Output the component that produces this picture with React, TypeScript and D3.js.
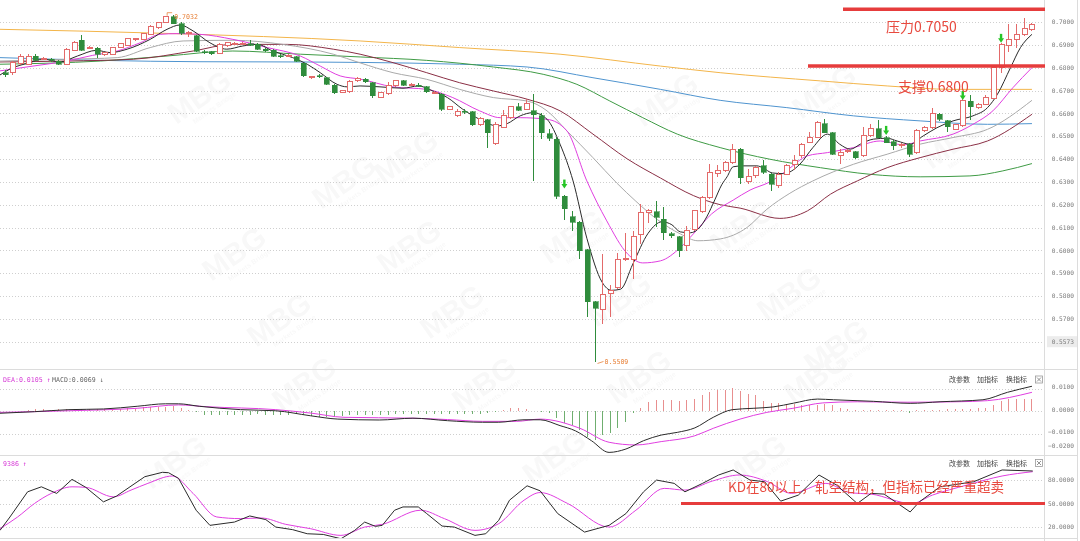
import React from 'react';
import * as d3 from 'd3';

const W = 1080;
const H = 541;

// ---------- candles (AUD/USD style daily) ----------
const opens = [
  0.6778,0.6778,0.6817,0.6815,0.6851,0.6838,0.6836,0.6829,0.6815,0.6876,
  0.6920,0.6885,0.6885,0.6859,0.6859,0.6888,0.6898,0.6925,0.6924,0.6946,
  0.6975,0.6997,0.7022,0.6993,0.6950,0.6939,0.6870,0.6870,0.6861,0.6895,
  0.6903,0.6905,0.6905,0.6902,0.6880,0.6876,0.6852,0.6851,0.6847,0.6819,
  0.6758,0.6765,0.6756,0.6724,0.6693,0.6695,0.6742,0.6749,0.6734,0.6669,
  0.6686,0.6720,0.6742,0.6727,0.6722,0.6716,0.6690,0.6684,0.6619,0.6589,
  0.6610,0.6607,0.6549,0.6571,0.6467,0.6540,0.6581,0.6628,0.6618,0.6611,
  0.6589,0.6511,0.6487,0.6238,0.6147,0.6122,0.6002,0.5776,0.5743,0.5810,
  0.5837,0.5960,0.5961,0.6068,0.6166,0.6170,0.6136,0.6073,0.6059,0.6020,
  0.6093,0.6170,0.6231,0.6336,0.6351,0.6384,0.6443,0.6300,0.6326,0.6370,
  0.6333,0.6282,0.6333,0.6377,0.6414,0.6472,0.6494,0.6555,0.6516,0.6414,
  0.6433,0.6432,0.6414,0.6501,0.6533,0.6494,0.6476,0.6460,0.6465,0.6428,
  0.6526,0.6537,0.6596,0.6567,0.6530,0.6545,0.6654,0.6625,0.6640,0.6665,
  0.6800,0.6895,0.6924,0.6946,0.6968,
];
const closes = [
  0.6768,0.6822,0.6851,0.6848,0.6832,0.6842,0.6832,0.6815,0.6881,0.6912,
  0.6876,0.6888,0.6859,0.6866,0.6888,0.6905,0.6927,0.6927,0.6950,0.6982,
  0.6997,0.7022,0.6993,0.6951,0.6953,0.6873,0.6869,0.6861,0.6902,0.6909,
  0.6906,0.6907,0.6899,0.6880,0.6875,0.6851,0.6850,0.6853,0.6829,0.6764,
  0.6760,0.6760,0.6727,0.6691,0.6698,0.6739,0.6754,0.6739,0.6676,0.6691,
  0.6720,0.6742,0.6723,0.6728,0.6720,0.6695,0.6691,0.6618,0.6628,0.6607,
  0.6609,0.6549,0.6578,0.6516,0.6549,0.6589,0.6628,0.6614,0.6642,0.6593,
  0.6516,0.6491,0.6238,0.6182,0.6122,0.5998,0.5776,0.5747,0.5808,0.5826,
  0.5961,0.5964,0.6060,0.6165,0.6173,0.6144,0.6078,0.6063,0.5998,0.6088,
  0.6173,0.6231,0.6340,0.6351,0.6384,0.6443,0.6319,0.6322,0.6362,0.6341,
  0.6290,0.6333,0.6370,0.6392,0.6465,0.6494,0.6559,0.6516,0.6421,0.6428,
  0.6437,0.6406,0.6501,0.6533,0.6494,0.6472,0.6457,0.6462,0.6421,0.6526,
  0.6540,0.6599,0.6574,0.6541,0.6549,0.6657,0.6628,0.6640,0.6669,0.6800,
  0.6902,0.6924,0.6946,0.6972,0.6990,
];
const highs = [
  0.6790,0.6830,0.6862,0.6860,0.6858,0.6848,0.6842,0.6834,0.6886,0.6916,
  0.6942,0.6895,0.6890,0.6870,0.6892,0.6910,0.6930,0.6932,0.6954,0.6986,
  0.7002,0.7026,0.7032,0.6998,0.6962,0.6944,0.6878,0.6875,0.6908,0.6914,
  0.6912,0.6912,0.6921,0.6906,0.6884,0.6880,0.6858,0.6858,0.6852,0.6822,
  0.6764,0.6772,0.6760,0.6728,0.6702,0.6745,0.6760,0.6753,0.6738,0.6694,
  0.6738,0.6746,0.6746,0.6734,0.6735,0.6720,0.6696,0.6688,0.6632,0.6618,
  0.6618,0.6611,0.6584,0.6576,0.6560,0.6615,0.6632,0.6647,0.6662,0.6684,
  0.6602,0.6530,0.6495,0.6242,0.6173,0.6128,0.6006,0.5780,0.5986,0.5850,
  0.5990,0.6078,0.6085,0.6202,0.6180,0.6218,0.6189,0.6080,0.6065,0.6108,
  0.6178,0.6240,0.6380,0.6372,0.6392,0.6465,0.6450,0.6357,0.6370,0.6397,
  0.6340,0.6345,0.6378,0.6416,0.6470,0.6518,0.6565,0.6577,0.6520,0.6445,
  0.6445,0.6436,0.6540,0.6555,0.6570,0.6500,0.6482,0.6470,0.6470,0.6530,
  0.6545,0.6625,0.6602,0.6572,0.6555,0.6670,0.6679,0.6645,0.6682,0.6808,
  0.6910,0.6990,0.6990,0.7019,0.6995,
];
const lows = [
  0.6760,0.6770,0.6812,0.6810,0.6828,0.6832,0.6826,0.6810,0.6812,0.6872,
  0.6872,0.6880,0.6841,0.6852,0.6855,0.6884,0.6894,0.6918,0.6920,0.6942,
  0.6970,0.6994,0.6990,0.6945,0.6935,0.6868,0.6860,0.6855,0.6858,0.6890,
  0.6898,0.6899,0.6895,0.6876,0.6870,0.6846,0.6844,0.6845,0.6825,0.6760,
  0.6752,0.6755,0.6722,0.6686,0.6688,0.6690,0.6738,0.6735,0.6668,0.6665,
  0.6682,0.6716,0.6718,0.6718,0.6716,0.6690,0.6684,0.6612,0.6614,0.6585,
  0.6598,0.6544,0.6545,0.6448,0.6462,0.6536,0.6577,0.6610,0.6614,0.6304,
  0.6486,0.6480,0.6225,0.6133,0.6085,0.5963,0.5706,0.5509,0.5677,0.5706,
  0.5830,0.5954,0.5875,0.6027,0.6118,0.6101,0.6046,0.6055,0.5971,0.5998,
  0.6085,0.6165,0.6225,0.6321,0.6345,0.6380,0.6290,0.6290,0.6318,0.6335,
  0.6260,0.6275,0.6328,0.6350,0.6405,0.6468,0.6490,0.6512,0.6418,0.6379,
  0.6425,0.6400,0.6408,0.6497,0.6490,0.6468,0.6440,0.6450,0.6410,0.6420,
  0.6520,0.6532,0.6568,0.6518,0.6525,0.6540,0.6570,0.6618,0.6636,0.6662,
  0.6776,0.6867,0.6885,0.6940,0.6962,
];

// ---------- moving averages: [candle index, price] ----------
const ma5: [number, number][] = [
  [-0.6,0.6768],[0.7,0.6794],[3.3,0.6822],[5,0.6838],[7.2,0.6825],[9.5,0.6851],[12,0.6876],[13.8,0.6866],
  [16,0.6881],[19,0.6924],[21.2,0.6968],[22.9,0.6987],[24.6,0.6961],[26.8,0.6909],[29,0.6881],[31.1,0.6895],
  [33,0.6902],[35,0.6873],[37.6,0.6844],[39.5,0.6815],[41.2,0.6778],[43.4,0.6727],[44.7,0.6716],[46.4,0.6720],
  [49,0.6716],[52,0.6710],[54,0.6720],[55.9,0.6698],[57.8,0.6669],[59.8,0.6618],[62,0.6574],[64.3,0.6545],
  [65.6,0.6555],[67.3,0.6589],[69,0.6603],[70.8,0.6574],[72.5,0.6465],[74.2,0.6304],[76,0.6053],[78,0.5860],
  [79.2,0.5825],[80.4,0.5830],[82,0.5940],[84,0.6075],[85.8,0.6125],[87.1,0.6112],[88.2,0.6081],[89.5,0.6077],
  [90.8,0.6103],[91.7,0.6150],[92.7,0.6221],[93.6,0.6287],[94.3,0.6322],[95.1,0.6366],[96.4,0.6370],[98.2,0.6370],
  [99,0.6361],[100.2,0.6339],[101.7,0.6336],[103.8,0.6377],[105.5,0.6450],[107.4,0.6509],[109,0.6465],[110.4,0.6443],
  [111.7,0.6465],[113.4,0.6487],[115.2,0.6491],[116.5,0.6479],[118.2,0.6465],[119.9,0.6501],[121.7,0.6537],[123.8,0.6567],
  [126.4,0.6589],[128.3,0.6625],[129.6,0.6684],[131.3,0.6800],[132.6,0.6888],[134.1,0.6946],
];
const ma10: [number, number][] = [
  [-0.6,0.6786],[3.7,0.6807],[8.1,0.6829],[11.5,0.6854],[14.7,0.6873],[17.7,0.6909],[20.3,0.6946],[22.5,0.6949],
  [25.5,0.6946],[29.8,0.6924],[34.3,0.6888],[38.6,0.6851],[41.2,0.6807],[43.8,0.6764],[46.4,0.6750],[50.7,0.6716],
  [55.1,0.6705],[58.5,0.6669],[62,0.6611],[64.7,0.6581],[67.3,0.6581],[70.8,0.6574],[73.4,0.6523],[76,0.6304],
  [78.6,0.6129],[81.3,0.5985],[83.3,0.5945],[85.6,0.5954],[88.2,0.6012],[89.9,0.6072],[92.3,0.6160],[95.1,0.6220],
  [97.3,0.6264],[99.9,0.6300],[102.1,0.6350],[104.8,0.6414],[107.4,0.6428],[110.8,0.6450],[114.3,0.6479],[117.3,0.6462],
  [119.5,0.6479],[123.8,0.6509],[126.4,0.6552],[129,0.6611],[131.6,0.6712],[134.1,0.6800],
];
const ma20: [number, number][] = [
  [-0.6,0.6829],[8.1,0.6837],[14.7,0.6844],[19,0.6888],[23.3,0.6917],[29.8,0.6920],[36.3,0.6902],[42.9,0.6859],
  [46.4,0.6821],[50.7,0.6778],[55.1,0.6749],[59.4,0.6705],[63.8,0.6669],[68.2,0.6654],[70.8,0.6611],[73.4,0.6523],
  [76.8,0.6406],[79.9,0.6295],[82.4,0.6215],[85.2,0.6135],[88.2,0.6072],[90.5,0.6042],[93.4,0.6050],[96.9,0.6100],
  [99.5,0.6180],[102.5,0.6250],[105.5,0.6304],[110.8,0.6377],[115.2,0.6421],[119.5,0.6465],[123.8,0.6494],[128.3,0.6530],
  [134.1,0.6657],
];
const ma30: [number, number][] = [
  [-0.6,0.6825],[8.1,0.6829],[16.8,0.6837],[24.6,0.6873],[29.8,0.6902],[36.9,0.6902],[42.9,0.6881],[46.4,0.6859],
  [50.7,0.6822],[55.1,0.6778],[59.4,0.6734],[63.8,0.6698],[68.2,0.6662],[72.5,0.6611],[76.8,0.6509],[81.3,0.6400],
  [85.6,0.6317],[89.9,0.6240],[93.4,0.6200],[96,0.6185],[101.2,0.6140],[104.8,0.6173],[107.8,0.6246],[111.3,0.6304],
  [115.2,0.6362],[119.5,0.6406],[123.8,0.6443],[128.3,0.6479],[134.1,0.6596],
];
const ma60: [number, number][] = [
  [-0.6,0.6815],[12.5,0.6829],[21.2,0.6851],[29.8,0.6873],[38.6,0.6859],[46.4,0.6847],[55.1,0.6832],[63.8,0.6803],
  [70.3,0.6771],[74.7,0.6727],[79,0.6654],[83.3,0.6581],[87.8,0.6509],[93.4,0.6450],[99.9,0.6399],[106.5,0.6362],
  [113,0.6333],[119.5,0.6322],[126,0.6326],[130.3,0.6348],[134.1,0.6380],
];
const ma120: [number, number][] = [
  [-0.6,0.6844],[12.5,0.6832],[25.5,0.6826],[38.6,0.6825],[46.4,0.6823],[59.4,0.6815],[68.2,0.6803],[76.8,0.6756],
  [85.6,0.6705],[93.4,0.6657],[102.1,0.6625],[110.8,0.6589],[119.5,0.6567],[128.3,0.6552],[134.1,0.6555],
];
const ma250: [number, number][] = [
  [-0.6,0.6968],[21.2,0.6950],[46.4,0.6917],[59.4,0.6888],[72.5,0.6859],[85.6,0.6807],[93.4,0.6778],[106.5,0.6742],
  [115.2,0.6720],[123.8,0.6705],[134.1,0.6705],
];

// ---------- MACD ----------
const macdHist = [
  0.0001,0.0001,0.0002,0.0006,0.0007,0.0007,0.0006,0.0007,0.0008,0.0007,
  0.0007,0.0008,0.0009,0.0011,0.0010,0.0011,0.0012,0.0011,0.0016,0.0018,
  0.0019,0.0020,0.0022,0.0013,0.0004,-0.0004,-0.0017,-0.0018,-0.0019,-0.0018,
  -0.0018,-0.0017,-0.0016,-0.0015,-0.0016,-0.0016,-0.0017,-0.0016,-0.0015,-0.0018,
  -0.0024,-0.0025,-0.0026,-0.0025,-0.0024,-0.0019,-0.0018,-0.0018,-0.0017,-0.0018,
  -0.0018,-0.0014,-0.0013,-0.0013,-0.0012,-0.0013,-0.0013,-0.0014,-0.0013,-0.0012,
  -0.0013,-0.0013,-0.0012,-0.0010,-0.0004,0.0003,0.0012,0.0014,0.0008,-0.0002,
  -0.0004,-0.0008,-0.0032,-0.0055,-0.0062,-0.0084,-0.0114,-0.0129,-0.0107,-0.0099,
  -0.0077,-0.0048,-0.0010,0.0015,0.0040,0.0050,0.0050,0.0050,0.0043,0.0050,
  0.0055,0.0070,0.0084,0.0095,0.0095,0.0102,0.0090,0.0077,0.0070,0.0043,
  0.0037,0.0036,0.0032,0.0032,0.0028,0.0025,0.0028,0.0032,0.0025,0.0013,
  0.0010,0.0003,0.0004,0.0004,0.0004,0.0005,0.0004,0.0004,-0.0009,0.0003,
  0.0004,0.0006,0.0006,0.0008,0.0008,0.0010,0.0010,0.0013,0.0013,0.0025,
  0.0043,0.0052,0.0055,0.0055,0.0052,
];
const macdDif: [number, number][] = [
  [-0.6,-0.0010],[3.9,-0.0003],[8.4,0.0006],[12.9,0.0009],[17.3,0.0021],[21,0.0032],[22.7,0.0032],[25.4,0.0021],
  [30.8,0.0006],[35.4,0.0001],[39.9,-0.0021],[43.5,-0.0036],[48.9,-0.0040],[53.3,-0.0032],[57.8,-0.0043],[62.4,-0.0050],
  [64.5,-0.0050],[67.8,-0.0039],[69.9,-0.0039],[72.5,-0.0065],[74.5,-0.0088],[76.6,-0.0132],[78.9,-0.0184],[81.1,-0.0169],
  [83.4,-0.0132],[85.7,-0.0107],[87.8,-0.0095],[90.1,-0.0075],[92.5,-0.0028],[95,0.0006],[97.7,0.0012],[100.3,0.0018],
  [103,0.0035],[106.1,0.0053],[108.2,0.0050],[113.4,0.0043],[118.2,0.0034],[122.1,0.0041],[127.7,0.0050],[130.9,0.0083],
  [134.1,0.0110],
];
const macdDea: [number, number][] = [
  [-0.6,-0.0006],[8.4,0.0001],[17.3,0.0012],[22.7,0.0027],[26.4,0.0019],[35.4,0.0006],[39.9,-0.0009],[44.3,-0.0028],
  [53.3,-0.0032],[57.8,-0.0038],[62.4,-0.0046],[66.8,-0.0046],[69.9,-0.0036],[75.1,-0.0077],[78.9,-0.0139],[82.4,-0.0151],
  [85.7,-0.0136],[90.1,-0.0110],[92.5,-0.0077],[96,-0.0036],[99.5,-0.0006],[102.9,0.0012],[106.8,0.0036],[111.3,0.0041],
  [117.8,0.0039],[124.3,0.0041],[128.3,0.0046],[134.1,0.0083],
];

// ---------- KD ----------
const kdK: [number, number][] = [
  [-0.6,15.7],[0.7,32.8],[3,64.9],[4.8,71.3],[6.8,62.9],[8.8,80.8],[10.6,70.6],[12.9,52.1],[14.6,59.4],[16.5,72.2],
  [18.3,84.2],[20.6,89.8],[21.4,89.3],[22.7,82.1],[25,41.4],[26.8,22.1],[30,26.3],[32,34.1],[34.1,29.4],[35.4,19.9],
  [37.6,16.6],[39.5,11.4],[41.6,10.5],[43.9,5],[45.7,15.7],[47,26.3],[48.4,20.8],[49.3,22.1],[50.9,41.4],[52,45.6],
  [54,45.6],[55.1,37.1],[57.1,21.2],[58.7,19.9],[61.4,9.3],[62.8,11.4],[64.5,28.5],[65.9,54.2],[68.2,72.6],[69.9,66.2],
  [72.2,37.1],[75.7,13.5],[78.9,22.1],[81.1,37.1],[83.4,64.9],[85.1,79.9],[87.4,75.7],[88.8,64.9],[91.1,75.7],[93.2,86.4],
  [95.1,92.8],[97.3,79.9],[99.2,77.8],[101.3,53],[103.6,60.7],[106.3,86.4],[108.6,73.5],[111.3,50],[113.1,62.9],[114.8,62],
  [118.2,39.2],[119.4,52.1],[122.1,71.3],[126.5,77.8],[130.2,92.8],[134.2,91.5],
];
const kdD: [number, number][] = [
  [-0.6,17.9],[1.7,32.8],[3.9,50],[6.1,62.9],[8.8,71.3],[10.6,70.6],[14.2,58.5],[16.5,67.1],[18.7,75.7],[21.9,85.1],
  [24.6,62.9],[27.7,32.8],[30.8,30.7],[33.5,31.5],[36.7,23.4],[39.9,17.9],[43.9,9.3],[47,19.9],[49.3,23.4],[54.3,41.4],
  [57.4,30.7],[61.4,15.7],[64.5,24.3],[67.8,54.2],[69.9,64],[73.5,50],[78.9,19.9],[82.4,41.4],[86.1,69.3],[88.8,67.1],
  [92.4,78.7],[95.9,86.4],[99.6,77.8],[102.7,62.9],[107.2,75.7],[110.4,63.6],[113.1,62],[118.4,50],[121.1,60.7],[125.6,73.5],
  [130.2,85.1],[134.2,90.6],
];

// ---------- ticks & annotations ----------
const priceTicks = [0.70, 0.69, 0.68, 0.67, 0.66, 0.65, 0.64, 0.63, 0.62, 0.61, 0.60, 0.59, 0.58, 0.57];
const priceBottomTick = 0.56;
const priceBottomLabel = '0.5573';
const macdTicks = [0.01, 0, -0.01, -0.02];
const kdTicks = [80, 50, 20];
const resistanceLevel = 0.7056;
const supportLevel = 0.6807;
const kdLevel = 50;
const resistanceText = '压力0.7050';
const supportText = '支撑0.6800';
const kdText = 'KD在80以上，轧空结构，但指标已经严重超卖';
const highMark = { idx: 22, value: 0.7032 };
const lowMark = { idx: 77, value: 0.5509 };
const arrowIdx = [73, 115, 125, 130];
const arrowTop = [0.6310, 0.6545, 0.6698, 0.6948];
const watermarks: [number, number][] = [
  [205, 105], [350, 190], [240, 262], [285, 328], [415, 255], [458, 320], [578, 245], [625, 308],
  [748, 235], [795, 302], [842, 355], [412, 165], [672, 108], [830, 100], [310, 392], [490, 392],
  [645, 385], [822, 385], [560, 465], [760, 470], [180, 470], [960, 150],
];

// ---------- layout ----------
const PLOT_RIGHT = 1044;
const xS = d3.scaleLinear().domain([0, 134]).range([4.6, 1031.2]);
const yP = d3.scaleLinear().domain([0.56, 0.70]).range([341.7, 22]);
const yM = d3.scaleLinear().domain([-0.02, 0.01]).range([456, 388.5]);
const yK = d3.scaleLinear().domain([20, 80]).range([527, 480]);

const UP = '#e36a6a';
const DOWN = '#2f8c3c';
const MONO = '"DejaVu Sans Mono", monospace';
const CJK = '"Noto Sans CJK SC", "Noto Sans", sans-serif';

function lineOf(scaleY: d3.ScaleLinear<number, number>, curve: d3.CurveFactory) {
  return d3.line<[number, number]>().x(d => xS(d[0])).y(d => scaleY(d[1])).curve(curve);
}

export default function App() {
  const priceLine = lineOf(yP, d3.curveMonotoneX);
  const macdLine = lineOf(yM, d3.curveMonotoneX);
  const kLine = lineOf(yK, d3.curveLinear);
  const dLine = lineOf(yK, d3.curveMonotoneX);

  const maDefs: { data: [number, number][]; color: string }[] = [
    { data: ma250, color: '#f3b54a' },
    { data: ma120, color: '#4f94cf' },
    { data: ma60, color: '#3f9b45' },
    { data: ma30, color: '#8a2f45' },
    { data: ma20, color: '#a9a9a9' },
    { data: ma10, color: '#e03ee0' },
    { data: ma5, color: '#2a2a2a' },
  ];

  const fmt4 = d3.format('.4f');

  return (
    <svg width={W} height={H} viewBox={`0 0 ${W} ${H}`}
      style={{ position: 'fixed', left: 0, top: 0, background: '#fff', display: 'block' }}>
      <defs>
        <clipPath id="cp-price"><rect x={0} y={0} width={PLOT_RIGHT} height={368} /></clipPath>
        <clipPath id="cp-macd"><rect x={0} y={370} width={PLOT_RIGHT} height={85} /></clipPath>
        <clipPath id="cp-kd"><rect x={0} y={456} width={PLOT_RIGHT} height={82} /></clipPath>
      </defs>
      <rect x={0} y={0} width={W} height={H} fill="#fff" />

      {/* watermarks */}
      <g fill="#000" opacity={0.028} fontFamily="Arial, sans-serif" fontWeight="bold">
        {watermarks.map(([wx, wy], i) => (
          <g key={i} transform={`translate(${wx},${wy}) rotate(-35)`}>
            <text x={0} y={0} fontSize={30} textAnchor="middle">MBG</text>
            <text x={6} y={10} fontSize={7} textAnchor="middle">Markets Bridge</text>
          </g>
        ))}
      </g>

      {/* gridlines */}
      <g stroke="#cfcfcf" strokeDasharray="1 2" strokeWidth={1}>
        {priceTicks.concat([priceBottomTick]).map(t => (
          <line key={t} x1={0} x2={PLOT_RIGHT} y1={Math.round(yP(t)) + 0.5} y2={Math.round(yP(t)) + 0.5} />
        ))}
        {macdTicks.slice(0, 3).map(t => (
          <line key={'m' + t} x1={0} x2={PLOT_RIGHT} y1={Math.round(yM(t)) + 0.5} y2={Math.round(yM(t)) + 0.5} />
        ))}
        {kdTicks.map(t => (
          <line key={'k' + t} x1={0} x2={PLOT_RIGHT} y1={Math.round(yK(t)) + 0.5} y2={Math.round(yK(t)) + 0.5} />
        ))}
      </g>

      {/* panel separators */}
      <g stroke="#dcdcdc" strokeWidth={1}>
        <line x1={PLOT_RIGHT + 0.5} x2={PLOT_RIGHT + 0.5} y1={0} y2={H} />
        <line x1={1077.5} x2={1077.5} y1={0} y2={H} />
        <line x1={0} x2={1078} y1={369.5} y2={369.5} />
        <line x1={0} x2={1078} y1={455.5} y2={455.5} />
        <line x1={0} x2={1078} y1={538.5} y2={538.5} />
      </g>

      {/* price panel */}
      <g clipPath="url(#cp-price)">
        {maDefs.map((m, i) => (
          <path key={i} d={priceLine(m.data) || ''} fill="none" stroke={m.color} strokeWidth={1} />
        ))}
        <g shapeRendering="crispEdges">
          {opens.map((o, i) => {
            const c = closes[i];
            const up = c >= o;
            const cx = Math.round(xS(i));
            const top = yP(Math.max(o, c));
            const bot = yP(Math.min(o, c));
            const h = Math.max(1, bot - top);
            const col = up ? UP : DOWN;
            return (
              <g key={i}>
                <line x1={cx + 0.5} x2={cx + 0.5} y1={yP(highs[i])} y2={yP(lows[i])} stroke={col} strokeWidth={1} />
                {up ? (
                  <rect x={cx - 2} y={top} width={5} height={h} fill="#fff" stroke={col} strokeWidth={1} />
                ) : (
                  <rect x={cx - 2} y={top} width={5} height={h} fill={col} stroke={col} strokeWidth={0.6} />
                )}
              </g>
            );
          })}
        </g>
        {/* signal arrows */}
        {arrowIdx.map((ai, k) => {
          const ax = xS(ai) + 0.5;
          const ay = yP(arrowTop[k]);
          return (
            <g key={ai} fill="#26c526" stroke="none">
              <rect x={ax - 1.2} y={ay} width={2.4} height={5} />
              <path d={`M${ax - 3},${ay + 4.5} L${ax + 3},${ay + 4.5} L${ax},${ay + 9} Z`} />
            </g>
          );
        })}
        {/* high / low markers */}
        <g fill="#e8823a" stroke="#e8823a" fontFamily={MONO} fontSize={6.6}>
          <line x1={xS(highMark.idx) - 6} y1={yP(highMark.value) - 2} x2={xS(highMark.idx) - 1} y2={yP(highMark.value) - 2} strokeWidth={0.8} />
          <line x1={xS(highMark.idx) - 6} y1={yP(highMark.value) - 2} x2={xS(highMark.idx) - 6} y2={yP(highMark.value) + 1} strokeWidth={0.8} />
          <text x={xS(highMark.idx) + 1} y={yP(highMark.value) + 4.5} stroke="none">{fmt4(highMark.value)}</text>
          <line x1={xS(lowMark.idx) + 3} y1={yP(lowMark.value) + 1} x2={xS(lowMark.idx) + 9} y2={yP(lowMark.value) - 1} strokeWidth={0.8} />
          <text x={xS(lowMark.idx) + 10} y={yP(lowMark.value) + 1.5} stroke="none">{fmt4(lowMark.value)}</text>
        </g>
      </g>

      {/* price axis labels */}
      <g fontFamily={MONO} fontSize={6.2} fill="#7a7a7a" textAnchor="end">
        {priceTicks.map(t => (
          <text key={t} x={1074} y={yP(t) + 2.2}>{fmt4(t)}</text>
        ))}
        <rect x={1047} y={yP(priceBottomTick) - 5.5} width={30} height={11} fill="#ececec" />
        <text x={1074} y={yP(priceBottomTick) + 2.2}>{priceBottomLabel}</text>
      </g>

      {/* support / resistance annotations */}
      <g stroke="#e63c3c" strokeWidth={3.5}>
        <line x1={843} x2={PLOT_RIGHT + 1} y1={yP(resistanceLevel)} y2={yP(resistanceLevel)} />
        <line x1={808} x2={PLOT_RIGHT + 1} y1={yP(supportLevel)} y2={yP(supportLevel)} />
      </g>
      <g fill="#e84a3f" fontFamily={CJK} fontSize={14}>
        <text x={886} y={31.5}>{resistanceText}</text>
        <text x={898} y={92}>{supportText}</text>
      </g>

      {/* MACD panel */}
      <g clipPath="url(#cp-macd)">
        <g shapeRendering="crispEdges">
          {macdHist.map((v, i) => {
            const cx = Math.round(xS(i)) + 0.5;
            return (
              <line key={i} x1={cx} x2={cx} y1={yM(0)} y2={yM(v)}
                stroke={v >= 0 ? '#e88f8f' : '#6fae6f'} strokeWidth={1} />
            );
          })}
        </g>
        <path d={macdLine(macdDea) || ''} fill="none" stroke="#e03ee0" strokeWidth={1} />
        <path d={macdLine(macdDif) || ''} fill="none" stroke="#2a2a2a" strokeWidth={1} />
      </g>
      <g fontFamily={MONO} fontSize={6.6}>
        <text x={3} y={381.5} fill="#d63ad6">DEA:0.0105 ↑</text>
        <text x={52} y={381.5} fill="#666">MACD:0.0069 ↓</text>
      </g>
      <g fontFamily={MONO} fontSize={6.2} fill="#7a7a7a" textAnchor="end">
        {macdTicks.map(t => (
          <text key={t} x={1074} y={Math.min(yM(t), 447) + 0.7}>{fmt4(t)}</text>
        ))}
      </g>

      {/* KD panel */}
      <g clipPath="url(#cp-kd)">
        <path d={dLine(kdD) || ''} fill="none" stroke="#e03ee0" strokeWidth={1} />
        <path d={kLine(kdK) || ''} fill="none" stroke="#2a2a2a" strokeWidth={1} />
      </g>
      <line x1={681} x2={PLOT_RIGHT + 1} y1={yK(kdLevel)} y2={yK(kdLevel)} stroke="#e63c3c" strokeWidth={3} />
      <text x={728} y={492} fill="#e84a3f" fontFamily={CJK} fontSize={13.5}>{kdText}</text>
      <text x={3} y={465.5} fill="#d63ad6" fontFamily={MONO} fontSize={6.6}>9386 ↑</text>
      <g fontFamily={MONO} fontSize={6.2} fill="#7a7a7a" textAnchor="end">
        {kdTicks.map(t => (
          <text key={t} x={1074} y={yK(t) + 2.2}>{d3.format('.4f')(t)}</text>
        ))}
      </g>

      {/* panel tool buttons */}
      {[379.5, 463].map((ty, k) => (
        <g key={k} fontFamily={CJK} fontSize={7} fill="#444">
          <text x={949} y={ty + 2.5}>改参数</text>
          <text x={977} y={ty + 2.5}>加指标</text>
          <text x={1006} y={ty + 2.5}>换指标</text>
          <rect x={1035.5} y={ty - 3.5} width={7} height={7} fill="#fff" stroke="#999" strokeWidth={0.8} />
          <path d={`M${1037},${ty - 2} L${1041},${ty + 2} M${1041},${ty - 2} L${1037},${ty + 2}`} stroke="#777" strokeWidth={0.8} />
        </g>
      ))}
    </svg>
  );
}
